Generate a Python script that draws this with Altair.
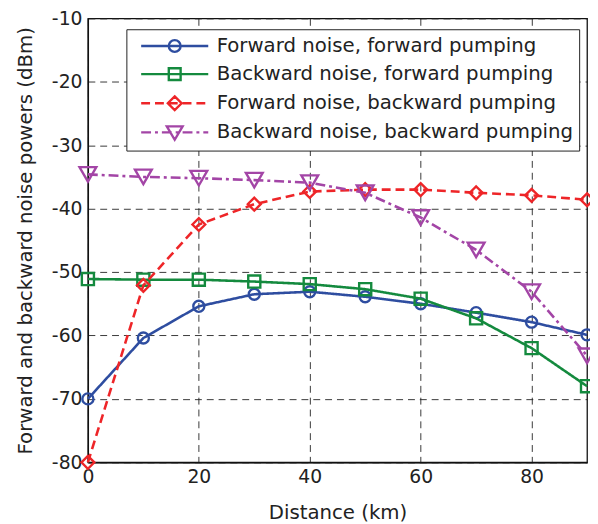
import altair as alt
import pandas as pd

# ---------------- data ----------------
distance = [0, 10, 20, 30, 40, 50, 60, 70, 80, 90]
fwd_noise_fwd_pump = [-70.0, -60.4, -55.4, -53.5, -53.1, -53.9, -55.0, -56.4, -57.9, -59.9]
bwd_noise_fwd_pump = [-51.1, -51.2, -51.2, -51.5, -51.9, -52.7, -54.2, -57.3, -62.0, -68.0]
fwd_noise_bwd_pump = [-80.0, -52.1, -42.5, -39.3, -37.3, -37.0, -37.0, -37.5, -37.9, -38.6]
bwd_noise_bwd_pump = [-34.6, -35.0, -35.2, -35.5, -35.9, -37.5, -41.4, -46.5, -53.1, -63.2]

series_names = [
    "Forward noise, forward pumping",
    "Backward noise, forward pumping",
    "Forward noise, backward pumping",
    "Backward noise, backward pumping",
]
series_values = [fwd_noise_fwd_pump, bwd_noise_fwd_pump, fwd_noise_bwd_pump, bwd_noise_bwd_pump]
x_ticks = [0, 20, 40, 60, 80]
y_ticks = [-80, -70, -60, -50, -40, -30, -20, -10]

# ---------------- styles ----------------
colors = ["#2E4DA0", "#148A3E", "#EE2528", "#A345A6"]
dashes = [[1, 0], [1, 0], [9, 5], [10, 4, 3, 4]]
shapes = ["circle", "square", "diamond", "triangle-down"]
sizes = [125, 150, 170, 290]
FONT = "DejaVu Sans"
TXT = "#222222"

rows = []
for name, vals in zip(series_names, series_values):
    for d, v in zip(distance, vals):
        rows.append({"distance": d, "power": v, "series": name})
df = pd.DataFrame(rows)

# legend symbols: line + marker drawn as custom paths (unit = U px)
U = 10.0
W = 34.0 / U


def line_path(pattern_px):
    if pattern_px == [1, 0]:
        return f"M{-W:.3f},0L{W:.3f},0"
    pat = [p / U for p in pattern_px]
    out = []
    pos = -W
    i = 0
    while pos < W:
        seg = pat[i % len(pat)]
        if i % 2 == 0:
            end = min(pos + seg, W)
            out.append(f"M{pos:.3f},0L{end:.3f},0")
        pos += seg
        i += 1
    return "".join(out)


def s(v):
    return f"{v / U:.3f}"


marker_paths = [
    f"M{s(6)},0A{s(6)},{s(6)} 0 1,1 {s(-6)},0A{s(6)},{s(6)} 0 1,1 {s(6)},0Z",
    f"M{s(-6)},{s(-6)}L{s(6)},{s(-6)}L{s(6)},{s(6)}L{s(-6)},{s(6)}Z",
    f"M0,{s(-7)}L{s(7)},0L0,{s(7)}L{s(-7)},0Z",
    f"M{s(-8)},{s(-6)}L{s(8)},{s(-6)}L0,{s(7.5)}Z",
]
legend_paths = [line_path(dp) + mp for dp, mp in zip(dashes, marker_paths)]

label_expr = "'' + datum.value"
x_enc = alt.X(
    "distance:Q",
    scale=alt.Scale(domain=[0, 90], nice=False, zero=False),
    axis=alt.Axis(title="Distance (km)", values=x_ticks, labelExpr=label_expr),
)
y_enc = alt.Y(
    "power:Q",
    scale=alt.Scale(domain=[-80, -10], nice=False, zero=False),
    axis=alt.Axis(title="Forward and backward noise powers (dBm)", values=y_ticks, labelExpr=label_expr),
)

base = alt.Chart(df)
layers = []
for name, col, dsh, shp, sz in zip(series_names, colors, dashes, shapes, sizes):
    sub = base.transform_filter(alt.datum.series == name)
    layers.append(
        sub.mark_line(color=col, strokeWidth=2.6, strokeDash=dsh, clip=False).encode(x=x_enc, y=y_enc)
    )
    layers.append(
        sub.mark_point(shape=shp, size=sz, filled=False, color=col, strokeWidth=2.4, opacity=1, clip=False).encode(
            x=x_enc, y=y_enc
        )
    )

leg = alt.Legend(
    title=None,
    orient="none",
    legendX=39,
    legendY=11,
    padding=5.5,
    fillColor="white",
    strokeColor="#222222",
    cornerRadius=0,
    labelFont=FONT,
    labelFontSize=20,
    labelColor=TXT,
    labelLimit=0,
    symbolSize=U * U * 4,
    symbolStrokeWidth=2.4,
    symbolOffset=32,
    labelOffset=31,
    rowPadding=5.5,
)
legend_layer = base.transform_filter(alt.datum.distance < -1000).mark_point(filled=False, opacity=1).encode(
    x=x_enc,
    y=y_enc,
    shape=alt.Shape("series:N", scale=alt.Scale(domain=series_names, range=legend_paths), legend=leg),
    stroke=alt.Stroke("series:N", scale=alt.Scale(domain=series_names, range=colors), legend=leg),
)
layers.append(legend_layer)

chart = (
    alt.layer(*layers)
    .properties(
        width=506,
        height=450,
        autosize=alt.AutoSizeParams(type="none"),
        padding={"left": 81, "top": 7, "right": 3, "bottom": 58},
        background="white",
    )
    .configure_view(stroke="#111111", strokeWidth=1.3)
    .configure_axis(
        labelFont=FONT,
        labelFontSize=19,
        labelColor=TXT,
        labelFlush=False,
        titleFont=FONT,
        titleFontSize=20,
        titleFontWeight="normal",
        titleColor=TXT,
        domainColor="#111111",
        domainWidth=1.3,
        ticks=False,
        grid=True,
        gridColor="#222222",
        gridDash=[7, 5],
        gridWidth=0.9,
        gridOpacity=1,
    )
    .configure_axisX(titlePadding=17, labelPadding=5)
    .configure_axisY(titlePadding=16, labelPadding=6)
)

chart.save("out.html", embed_options={"renderer": "svg", "actions": False})
